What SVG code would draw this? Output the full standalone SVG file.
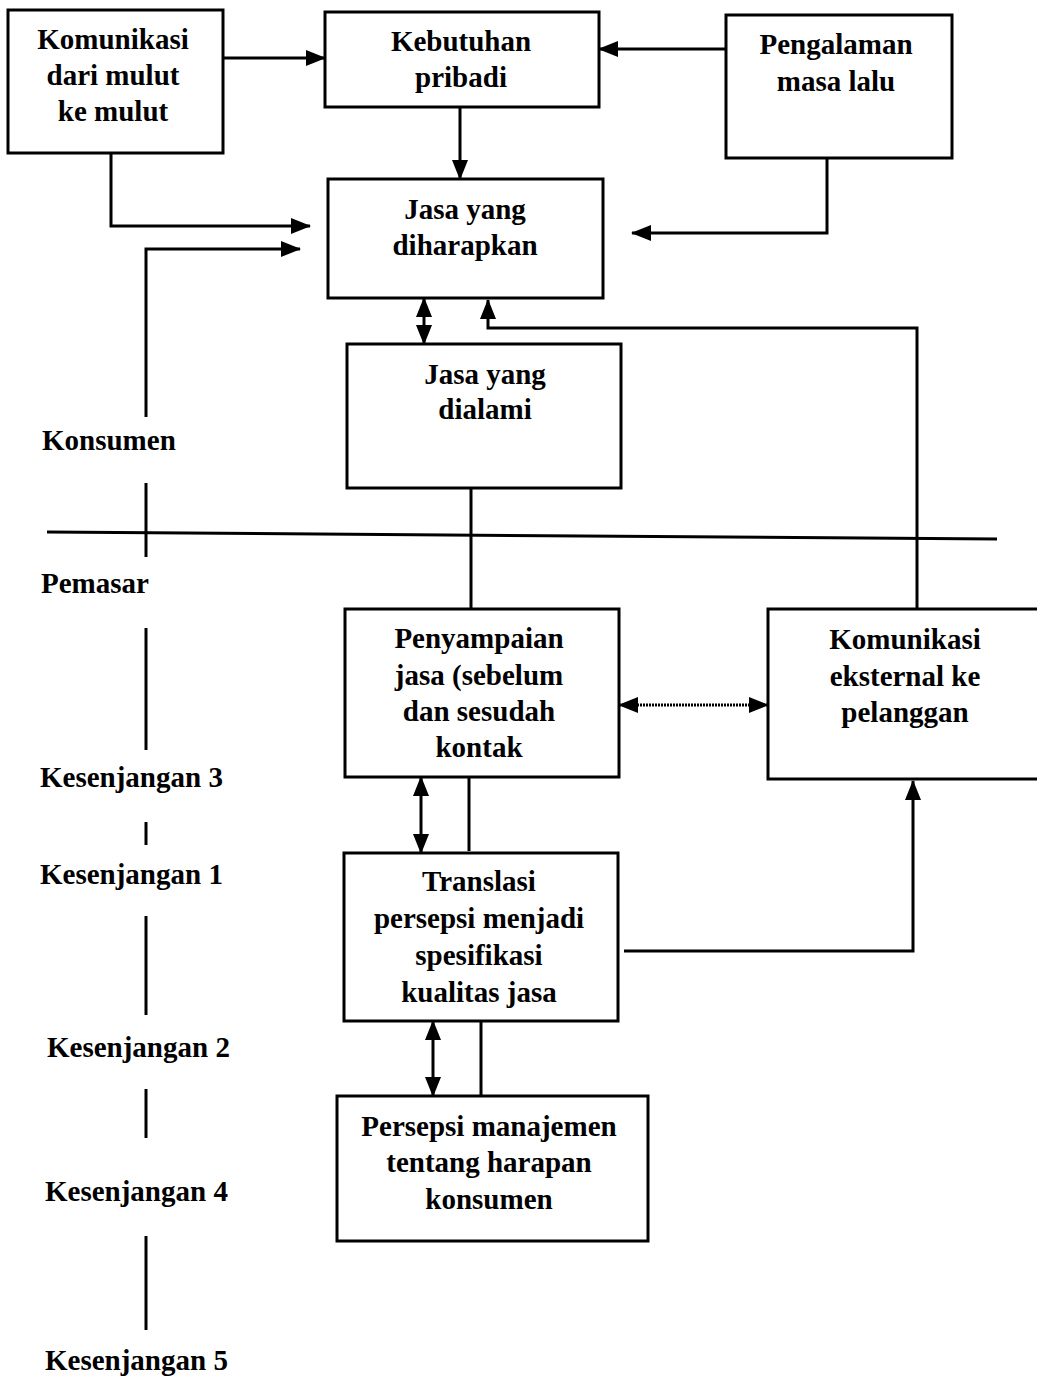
<svg xmlns="http://www.w3.org/2000/svg" width="1037" height="1378" viewBox="0 0 1037 1378">
<style>
.box{fill:#fff;stroke:#000;stroke-width:3}
.t{font-family:"Liberation Serif","Times New Roman",serif;font-weight:bold;font-size:29px;fill:#000;text-anchor:middle}
.tl{font-family:"Liberation Serif","Times New Roman",serif;font-weight:bold;font-size:29px;fill:#000}
.c{fill:none;stroke:#000;stroke-width:3}
.ca{fill:none;stroke:#000;stroke-width:3;marker-end:url(#ah)}
.cb{fill:none;stroke:#000;stroke-width:3;marker-end:url(#ah);marker-start:url(#ah)}
</style>
<defs>
<marker id="ah" markerUnits="userSpaceOnUse" markerWidth="20" markerHeight="16" refX="19" refY="8" orient="auto-start-reverse" viewBox="0 0 20 16">
<path d="M0,0 L20,8 L0,16 z" fill="#000"/>
</marker>
</defs>
<rect width="1037" height="1378" fill="#fff"/>

<g id="connectors">
<path class="ca" d="M223,58 H325"/>
<path class="ca" d="M726,49 H599"/>
<path class="ca" d="M460,107 V179"/>
<path class="ca" d="M111,153 V226 H310"/>
<path class="ca" d="M146,417 V249 H300"/>
<path class="ca" d="M827,158 V233 H632"/>
<path class="cb" d="M424,298 V344"/>
<path class="ca" d="M917,609 V328 H488 V300"/>
<path class="c" d="M471,488 V609"/>
<path class="cb" d="M619,705 H768" style="stroke-dasharray:2,1"/>
<path class="cb" d="M421,777 V853"/>
<path class="c" d="M469,777 V851"/>
<path class="ca" d="M624,951 H913 V781"/>
<path class="cb" d="M433,1021 V1096"/>
<path class="c" d="M481,1021 V1096"/>
</g>

<g id="divider">
<path class="c" d="M47,532 L997,539"/>
<path class="c" d="M146,483 V557"/>
<path class="c" d="M146,628 V750"/>
<path class="c" d="M146,822 V845"/>
<path class="c" d="M146,916 V1015"/>
<path class="c" d="M146,1089 V1138"/>
<path class="c" d="M146,1236 V1330"/>
</g>

<g id="node-komunikasi-mulut">
<rect class="box" x="8" y="10" width="215" height="143"/>
<text class="t" x="113" y="49">Komunikasi</text>
<text class="t" x="113" y="85">dari mulut</text>
<text class="t" x="113" y="121">ke mulut</text>
</g>

<g id="node-kebutuhan">
<rect class="box" x="325" y="12" width="274" height="95"/>
<text class="t" x="461" y="51">Kebutuhan</text>
<text class="t" x="461" y="87">pribadi</text>
</g>

<g id="node-pengalaman">
<rect class="box" x="726" y="15" width="226" height="143"/>
<text class="t" x="836" y="54">Pengalaman</text>
<text class="t" x="836" y="91">masa lalu</text>
</g>

<g id="node-diharapkan">
<rect class="box" x="328" y="179" width="275" height="119"/>
<text class="t" x="465" y="219">Jasa yang</text>
<text class="t" x="465" y="255">diharapkan</text>
</g>

<g id="node-dialami">
<rect class="box" x="347" y="344" width="274" height="144"/>
<text class="t" x="485" y="384">Jasa yang</text>
<text class="t" x="485" y="419">dialami</text>
</g>

<g id="node-penyampaian">
<rect class="box" x="345" y="609" width="274" height="168"/>
<text class="t" x="479" y="648">Penyampaian</text>
<text class="t" x="479" y="685">jasa (sebelum</text>
<text class="t" x="479" y="721">dan sesudah</text>
<text class="t" x="479" y="757">kontak</text>
</g>

<g id="node-eksternal">
<rect class="box" x="768" y="609" width="275" height="170"/>
<text class="t" x="905" y="649">Komunikasi</text>
<text class="t" x="905" y="686">eksternal ke</text>
<text class="t" x="905" y="722">pelanggan</text>
</g>

<g id="node-translasi">
<rect class="box" x="344" y="853" width="274" height="168"/>
<text class="t" x="479" y="891">Translasi</text>
<text class="t" x="479" y="928">persepsi menjadi</text>
<text class="t" x="479" y="965">spesifikasi</text>
<text class="t" x="479" y="1002">kualitas jasa</text>
</g>

<g id="node-persepsi">
<rect class="box" x="337" y="1096" width="311" height="145"/>
<text class="t" x="489" y="1136">Persepsi manajemen</text>
<text class="t" x="489" y="1172">tentang harapan</text>
<text class="t" x="489" y="1209">konsumen</text>
</g>

<g id="labels">
<text class="tl" x="42" y="450">Konsumen</text>
<text class="tl" x="41" y="593">Pemasar</text>
<text class="tl" x="40" y="787">Kesenjangan 3</text>
<text class="tl" x="40" y="884">Kesenjangan 1</text>
<text class="tl" x="47" y="1057">Kesenjangan 2</text>
<text class="tl" x="45" y="1201">Kesenjangan 4</text>
<text class="tl" x="45" y="1370">Kesenjangan 5</text>
</g>
</svg>
